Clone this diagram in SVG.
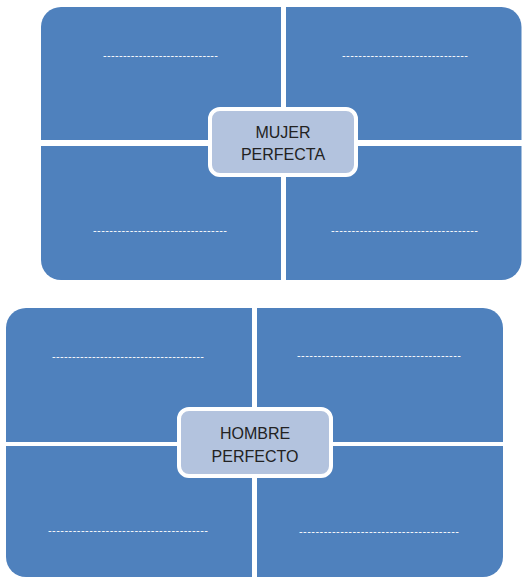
<svg xmlns="http://www.w3.org/2000/svg" width="522" height="578" viewBox="0 0 522 578">
<style>
.q{fill:#4f81bd}
.c{fill:#b3c3de;stroke:#ffffff;stroke-width:4}
.d{fill:#ffffff;font-family:"Liberation Sans",Arial,sans-serif;font-size:11px}
.t{fill:#222222;font-family:"Liberation Sans",Arial,sans-serif;font-size:16px;text-anchor:middle}
</style>
<rect width="522" height="578" fill="#ffffff"/>
<g id="mujer">
<g id="m-tl"><path class="q" d="M41,27 A20,20 0 0 1 61,7 H281 V140 H41 Z"/><text class="d" x="103" y="59" textLength="115" lengthAdjust="spacing">-----------------------------</text></g>
<g id="m-tr"><path class="q" d="M286,7 H501.5 A20,20 0 0 1 521.5,27 V140 H286 Z"/><text class="d" x="342" y="59" textLength="126" lengthAdjust="spacing">-------------------------------</text></g>
<g id="m-bl"><path class="q" d="M41,146 H281 V280 H61 A20,20 0 0 1 41,260 Z"/><text class="d" x="93" y="234" textLength="134" lengthAdjust="spacing">---------------------------------</text></g>
<g id="m-br"><path class="q" d="M286,146 H521.5 V260 A20,20 0 0 1 501.5,280 H286 Z"/><text class="d" x="331" y="234" textLength="147" lengthAdjust="spacing">------------------------------------</text></g>
<g id="m-center"><rect class="c" x="210" y="109" width="146" height="66" rx="10"/><text class="t" x="283" y="138">MUJER</text><text class="t" x="283" y="160">PERFECTA</text></g>
</g>
<g id="hombre">
<g id="h-tl"><path class="q" d="M6,328 A20,20 0 0 1 26,308 H252 V442 H6 Z"/><text class="d" x="52" y="360" textLength="152" lengthAdjust="spacing">--------------------------------------</text></g>
<g id="h-tr"><path class="q" d="M257,308 H483 A20,20 0 0 1 503,328 V442 H257 Z"/><text class="d" x="297" y="359" textLength="164" lengthAdjust="spacing">----------------------------------------</text></g>
<g id="h-bl"><path class="q" d="M6,446 H252 V577 H26 A20,20 0 0 1 6,557 Z"/><text class="d" x="48" y="534" textLength="160" lengthAdjust="spacing">---------------------------------------</text></g>
<g id="h-br"><path class="q" d="M257,446 H503 V557 A20,20 0 0 1 483,577 H257 Z"/><text class="d" x="299" y="535" textLength="160" lengthAdjust="spacing">---------------------------------------</text></g>
<g id="h-center"><rect class="c" x="179" y="409" width="152" height="67" rx="10"/><text class="t" x="255" y="439">HOMBRE</text><text class="t" x="255" y="462">PERFECTO</text></g>
</g>
</svg>
